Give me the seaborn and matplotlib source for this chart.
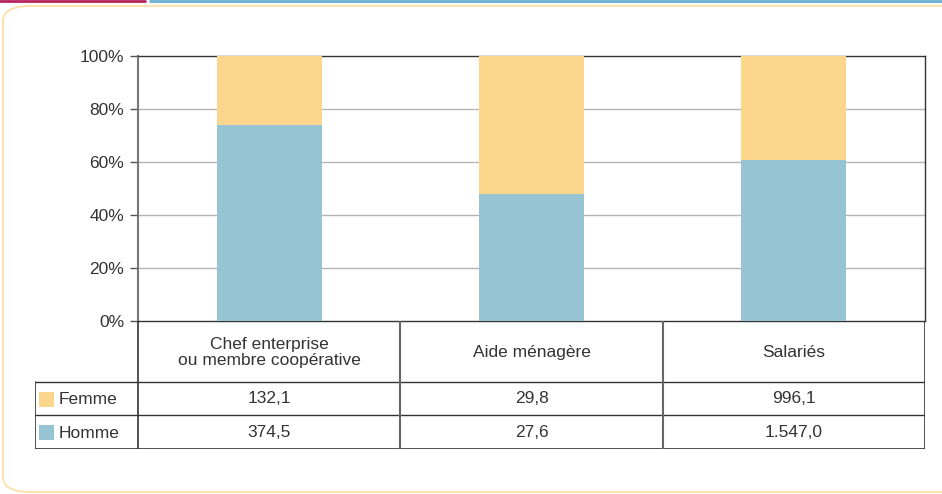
import numpy as np
import pandas as pd
import seaborn as sns
import matplotlib.pyplot as plt
from matplotlib.patches import FancyBboxPatch, Rectangle
from matplotlib.lines import Line2D

# ---------------------------------------------------------------
# Données
# ---------------------------------------------------------------
categories = ["Chef enterprise\nou membre coopérative", "Aide ménagère", "Salariés"]
femme = [132.1, 29.8, 996.1]
homme = [374.5, 27.6, 1547.0]
femme_lbl = ["132,1", "29,8", "996,1"]
homme_lbl = ["374,5", "27,6", "1.547,0"]
series = ["Femme", "Homme"]
y_ticks = [0, 20, 40, 60, 80, 100]

col_femme = "#fdd68e"
col_homme = "#97c4d3"
txt = "#333333"
fs = 12.5

df = pd.DataFrame({"cat": categories, "Femme": femme, "Homme": homme})
df["total"] = df["Femme"] + df["Homme"]
df["pct_homme"] = df["Homme"] / df["total"] * 100
df["pct_total"] = 100.0

sns.set_style("white")
plt.rcParams["font.family"] = ["Liberation Sans", "DejaVu Sans"]

W, H = 942, 494
fig = plt.figure(figsize=(W / 100, H / 100), dpi=100)


def fx(px):
    return px / W


def fy(py):
    return 1 - py / H


# cadre de la carte
card = FancyBboxPatch((fx(3), fy(492)), fx(1000), fy(6) - fy(492),
                      boxstyle="round,pad=0,rounding_size=0.03",
                      transform=fig.transFigure, fill=False,
                      edgecolor="#fde0a6", linewidth=1.3, clip_on=False)
fig.patches.append(card)
fig.lines.append(Line2D([fx(0), fx(145)], [fy(1), fy(1)], color="#b5225e",
                        linewidth=2, transform=fig.transFigure))
fig.lines.append(Line2D([fx(150), fx(942)], [fy(1), fy(1)], color="#6aaed0",
                        linewidth=2, transform=fig.transFigure))

# ---------------------------------------------------------------
# Graphique
# ---------------------------------------------------------------
x0, x1, ytop, ybot = 138, 925, 56, 321
ax = fig.add_axes([fx(x0), fy(ybot), fx(x1 - x0), fy(ytop) - fy(ybot)])
sns.barplot(data=df, x="cat", y="pct_total", color=col_femme, width=0.4,
            saturation=1, linewidth=0, ax=ax, zorder=3)
sns.barplot(data=df, x="cat", y="pct_homme", color=col_homme, width=0.4,
            saturation=1, linewidth=0, ax=ax, zorder=3)
ax.set_ylim(0, 100)
ax.set_xlim(-0.5, len(categories) - 0.5)
ax.set_yticks(y_ticks)
ax.set_yticklabels([f"{t}%" for t in y_ticks], fontsize=fs, color=txt)
ax.set_xticks([])
ax.set_xlabel("")
ax.set_ylabel("")
for t in y_ticks[1:-1]:
    ax.axhline(t, color="#b4b4b4", linewidth=1, zorder=1)
ax.tick_params(axis="y", left=True, length=6, width=1, color="#555555", pad=4)
ax.spines["left"].set_color("#777777")
ax.spines["left"].set_linewidth(1.5)
for s in ["top", "bottom", "right"]:
    ax.spines[s].set_color("#333333")
    ax.spines[s].set_linewidth(1)

# ---------------------------------------------------------------
# Tableau de données
# ---------------------------------------------------------------
tleft, thead, trow1, trow2 = 35, 382, 415, 449
tax = fig.add_axes([fx(tleft), fy(trow2), fx(x1 - tleft), fy(ybot) - fy(trow2)])
tax.set_xlim(tleft, x1)
tax.set_ylim(trow2, ybot)
tax.axis("off")

colw = (x1 - x0) / len(categories)
lc = "#333333"
# lignes horizontales
tax.plot([tleft, x1], [thead, thead], color=lc, lw=1)
tax.plot([tleft, x1], [trow1, trow1], color=lc, lw=1)
tax.plot([tleft, x1], [trow2 - 0.5, trow2 - 0.5], color=lc, lw=1.2)
# lignes verticales
tax.plot([tleft + 0.5, tleft + 0.5], [thead, trow2], color=lc, lw=1.2)
for i in range(len(categories) + 1):
    xv = x0 + i * colw
    if i == len(categories):
        xv -= 0.5
    tax.plot([xv, xv], [ybot, trow2], color="#666666" if 0 < i < 3 else lc,
             lw=1.5 if 0 < i < 3 else 1.2)

for i, cat in enumerate(categories):
    cx = x0 + (i + 0.5) * colw
    tax.text(cx, (ybot + thead) / 2 + 1, cat, ha="center", va="center",
             fontsize=fs, color=txt, linespacing=1.1)
    tax.text(cx, (thead + trow1) / 2, femme_lbl[i], ha="center", va="center",
             fontsize=fs, color=txt)
    tax.text(cx, (trow1 + trow2) / 2, homme_lbl[i], ha="center", va="center",
             fontsize=fs, color=txt)

for name, col, (ya, yb) in zip(series, [col_femme, col_homme],
                                [(thead, trow1), (trow1, trow2)]):
    ym = (ya + yb) / 2
    tax.add_patch(Rectangle((39, ym - 7), 15, 15, facecolor=col,
                            edgecolor="none"))
    tax.text(59, ym + 1, name, ha="left", va="center", fontsize=fs, color=txt)

fig.savefig("out.png", dpi=100)
